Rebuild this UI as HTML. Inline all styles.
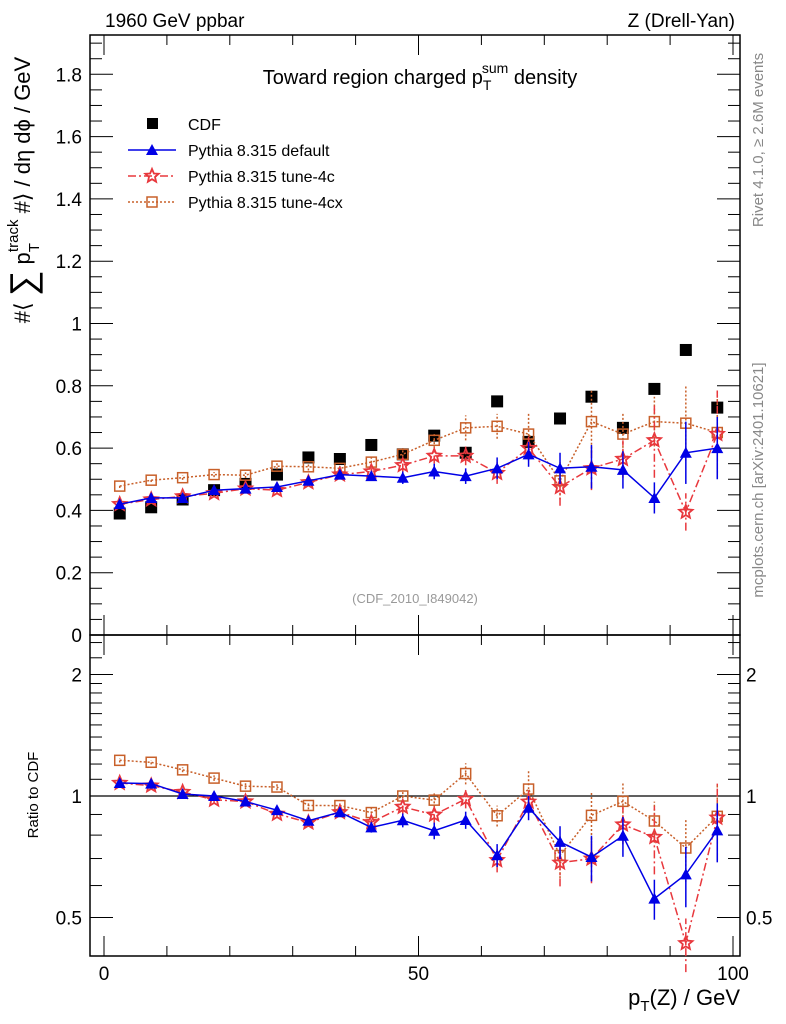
<!DOCTYPE html>
<html><head><meta charset="utf-8"><style>
html,body{margin:0;padding:0;background:#fff;}
svg{display:block;font-family:"Liberation Sans",sans-serif;}
</style></head><body>
<svg id="chart" width="786" height="1024" viewBox="0 0 786 1024">
<g id="frames"></g>
<g id="marks"></g>
<text x="105" y="27" font-size="19">1960 GeV ppbar</text>
<text x="735" y="27" font-size="19" text-anchor="end">Z (Drell-Yan)</text>
<text x="420" y="84" font-size="20" text-anchor="middle">Toward region charged p<tspan font-size="14" dy="6">T</tspan><tspan font-size="14" dx="-8" dy="-17">sum</tspan><tspan dy="11"> density</tspan></text>
<text x="415" y="603" font-size="13" fill="#999" text-anchor="middle">(CDF_2010_I849042)</text>
<text transform="translate(763,140) rotate(-90)" font-size="15" fill="#888" text-anchor="middle">Rivet 4.1.0, ≥ 2.6M events</text>
<text transform="translate(763,480) rotate(-90)" font-size="15" fill="#888" text-anchor="middle">mcplots.cern.ch [arXiv:2401.10621]</text>
<text transform="translate(30,190) rotate(-90)" font-size="22" text-anchor="middle">#⟨ <tspan font-size="36" dy="5">∑</tspan><tspan dy="-5"> p</tspan><tspan font-size="15" dy="9">T</tspan><tspan font-size="15" dx="-9" dy="-21">track</tspan><tspan dy="12"> #⟩ / dη dϕ / GeV</tspan></text>
<text transform="translate(38,795) rotate(-90)" font-size="15" text-anchor="middle">Ratio to CDF</text>
<text x="740" y="1005" font-size="22" text-anchor="end">p<tspan font-size="15" dy="6">T</tspan><tspan dy="-6">(Z) / GeV</tspan></text>
<g id="legend"></g>
</svg>
<script>
const xCenters=[2.5,7.5,12.5,17.5,22.5,27.5,32.5,37.5,42.5,47.5,52.5,57.5,62.5,67.5,72.5,77.5,82.5,87.5,92.5,97.5];
const cdfVals=[0.39,0.41,0.435,0.465,0.485,0.515,0.57,0.565,0.61,0.58,0.64,0.585,0.75,0.62,0.695,0.765,0.665,0.79,0.915,0.73];
const defVals=[0.42,0.44,0.44,0.465,0.47,0.475,0.495,0.515,0.51,0.505,0.525,0.51,0.535,0.58,0.535,0.54,0.53,0.44,0.585,0.6];
const defErr=[0.006,0.006,0.007,0.008,0.009,0.01,0.012,0.012,0.015,0.02,0.025,0.025,0.035,0.04,0.05,0.07,0.06,0.05,0.1,0.1];
const c4Vals=[0.42,0.435,0.445,0.455,0.47,0.465,0.49,0.515,0.525,0.545,0.575,0.575,0.52,0.6,0.475,0.535,0.565,0.625,0.395,0.645];
const c4Err=[0.006,0.006,0.007,0.008,0.009,0.01,0.012,0.012,0.015,0.02,0.025,0.03,0.035,0.04,0.06,0.07,0.06,0.12,0.06,0.14];
const cxVals=[0.478,0.497,0.505,0.515,0.513,0.542,0.54,0.535,0.555,0.58,0.625,0.665,0.67,0.645,0.495,0.685,0.645,0.685,0.68,0.65];
const cxErr=[0.006,0.006,0.007,0.008,0.009,0.01,0.012,0.012,0.015,0.02,0.025,0.04,0.04,0.07,0.06,0.1,0.07,0.08,0.12,0.13];
const yTickLabels=["0","0.2","0.4","0.6","0.8","1","1.2","1.4","1.6","1.8"];
const xTickLabels=["0","50","100"];

const NS="http://www.w3.org/2000/svg";
const L=90,R=740,T=35,M=635,B=956;
const X=v=>104+6.29*v;
const Y=v=>635-311.5*v;
const RY=r=>796-121.5*Math.log2(r);
function mk(tag,attrs,parent){const e=document.createElementNS(NS,tag);for(const k in attrs)e.setAttribute(k,attrs[k]);parent.appendChild(e);return e;}
const fr=document.getElementById('frames'),mg=document.getElementById('marks'),lg=document.getElementById('legend');

let e=mk('rect',{x:L,y:T,width:R-L,height:M-T,fill:'none',stroke:'#000','stroke-width':1.5},fr);

e=mk('rect',{x:L,y:M,width:R-L,height:B-M,fill:'none',stroke:'#000','stroke-width':1.5},fr);

for(let v=0;v<=1.9001;v+=0.05){const y=Y(v);if(y<T)break;const maj=Math.abs(v/0.2-Math.round(v/0.2))<1e-6;const len=maj?23:12;
 mk('line',{x1:L,y1:y,x2:L+len,y2:y,stroke:'#000','stroke-width':1},fr);mk('line',{x1:R,y1:y,x2:R-len,y2:y,stroke:'#000','stroke-width':1},fr);}
yTickLabels.forEach((t,i)=>{const y=Y(i*0.2);const tx=mk('text',{x:82,y:y+7,'font-size':19,'text-anchor':'end'},fr);tx.textContent=t;
 });
for(let v=0;v<=100;v+=10){const x=X(v);const maj=v%50===0;const len=maj?20:10;
 mk('line',{x1:x,y1:T,x2:x,y2:T+len,stroke:'#000'},fr);mk('line',{x1:x,y1:M,x2:x,y2:M-len,stroke:'#000'},fr);
 mk('line',{x1:x,y1:M,x2:x,y2:M+len,stroke:'#000'},fr);mk('line',{x1:x,y1:B,x2:x,y2:B-len,stroke:'#000'},fr);}
xTickLabels.forEach((t,i)=>{const tx=mk('text',{x:X(i*50),y:980,'font-size':19,'text-anchor':'middle'},fr);tx.textContent=t;
 });
[0.5,0.6,0.7,0.8,0.9,1,1.1,1.2,1.3,1.4,1.5,1.6,1.7,1.8,1.9,2,2.2,2.4].forEach(r=>{const y=RY(r);if(y<M||y>B)return;const maj=(r===0.5||r===1||r===2);const len=maj?23:12;
 mk('line',{x1:L,y1:y,x2:L+len,y2:y,stroke:'#000'},fr);mk('line',{x1:R,y1:y,x2:R-len,y2:y,stroke:'#000'},fr);});
[["0.5",0.5],["1",1],["2",2]].forEach(([t,r])=>{let tx=mk('text',{x:82,y:RY(r)+7,'font-size':19,'text-anchor':'end'},fr);tx.textContent=t;
 
 tx=mk('text',{x:746,y:RY(r)+7,'font-size':19},fr);tx.textContent=t;
 });
e=mk('line',{x1:L,y1:RY(1),x2:R,y2:RY(1),stroke:'#000','stroke-width':1.2},fr);


function star(cx,cy,r,col){let p=[];for(let i=0;i<10;i++){const a=-Math.PI/2+i*Math.PI/5;const rr=i%2?r*0.45:r;p.push((cx+rr*Math.cos(a)).toFixed(1)+','+(cy+rr*Math.sin(a)).toFixed(1));}
 return mk('polygon',{points:p.join(' '),fill:'none',stroke:col,'stroke-width':1.8},mg);}
function marker(type,cx,cy,col){
 if(type==='tri') return mk('polygon',{points:`${cx},${cy-6} ${cx-6},${cy+5} ${cx+6},${cy+5}`,fill:col},mg);
 if(type==='star') return star(cx,cy,7,col);
 if(type==='sq') return mk('rect',{x:cx-5,y:cy-5,width:10,height:10,fill:'none',stroke:col,'stroke-width':1.5},mg);
}
const series=[
 {name:'default',vals:defVals,err:defErr,col:'#0000e6',dash:'',type:'tri'},
 {name:'tune-4c',vals:c4Vals,err:c4Err,col:'#e8383d',dash:'8,3,2,3',type:'star'},
 {name:'tune-4cx',vals:cxVals,err:cxErr,col:'#c8602a',dash:'2,2',type:'sq'}];
cdfVals.forEach((v,i)=>{const r=mk('rect',{x:X(xCenters[i])-6,y:Y(v)-6,width:12,height:12,fill:'#000'},mg);
 });
series.slice().reverse().forEach(s=>{
 const pts=s.vals.map((v,i)=>X(xCenters[i]).toFixed(1)+','+Y(v).toFixed(1)).join(' ');
 let pl=mk('polyline',{points:pts,fill:'none',stroke:s.col,'stroke-width':1.5,'stroke-dasharray':s.dash},mg);
 
 const rpts=s.vals.map((v,i)=>X(xCenters[i]).toFixed(1)+','+RY(v/cdfVals[i]).toFixed(1)).join(' ');
 pl=mk('polyline',{points:rpts,fill:'none',stroke:s.col,'stroke-width':1.5,'stroke-dasharray':s.dash},mg);
 
 s.vals.forEach((v,i)=>{const x=X(xCenters[i]);
  let l=mk('line',{x1:x,y1:Y(v-s.err[i]),x2:x,y2:Y(v+s.err[i]),stroke:s.col,'stroke-width':1.5,'stroke-dasharray':s.dash},mg);
  
  l=mk('line',{x1:x,y1:RY((v-s.err[i])/cdfVals[i]),x2:x,y2:RY((v+s.err[i])/cdfVals[i]),stroke:s.col,'stroke-width':1.5,'stroke-dasharray':s.dash},mg);
  
  let m=marker(s.type,x,Y(v),s.col);
  m=marker(s.type,x,RY(v/cdfVals[i]),s.col);
 });
});
const legItems=[['CDF','#000','','cdf'],['Pythia 8.315 default','#0000e6','','tri'],['Pythia 8.315 tune-4c','#e8383d','8,3,2,3','star'],['Pythia 8.315 tune-4cx','#c8602a','2,2','sq']];
legItems.forEach((it,i)=>{const y=124+26*i;const g=mk('g',{},lg);
 if(it[3]==='cdf'){mk('rect',{x:147,y:y-6,width:11,height:11,fill:'#000'},g);}
 else{mk('line',{x1:128,y1:y,x2:176,y2:y,stroke:it[1],'stroke-width':1.5,'stroke-dasharray':it[2]},g);
  const m=marker(it[3],152,y,it[1]);g.appendChild(m);}
 const t=mk('text',{x:188,y:y+6,'font-size':16},g);t.textContent=it[0];});
</script>
</body></html>
